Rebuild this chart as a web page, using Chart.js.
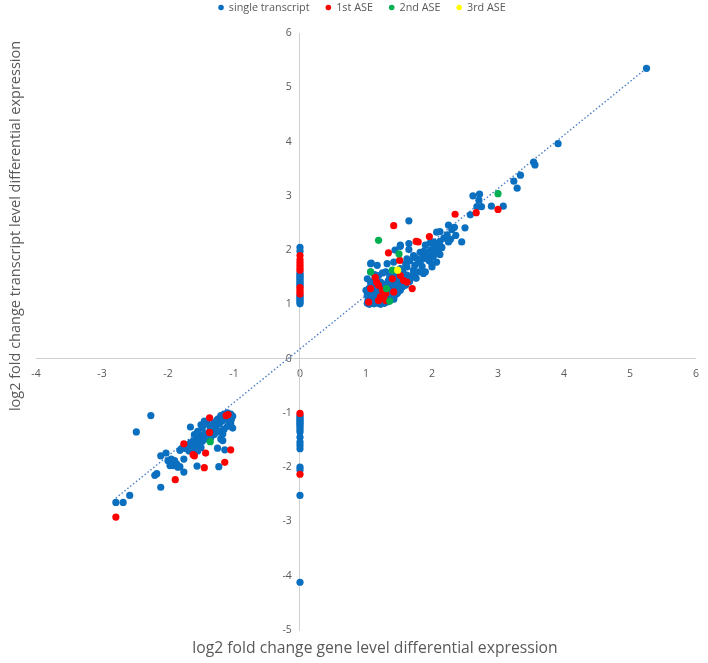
<!DOCTYPE html>
<html>
<head>
<meta charset="utf-8">
<script src="https://cdn.jsdelivr.net/npm/chart.js@4/dist/chart.umd.min.js"></script>
<style>
  html, body { margin: 0; padding: 0; background: #ffffff; }
  #wrap { position: relative; width: 708px; height: 663px; }
</style>
</head>
<body>
<div id="wrap"><canvas id="c" width="708" height="663"></canvas></div>
<script>
// ---- data ----
const seriesNames = ['single transcript', '1st ASE', '2nd ASE', '3rd ASE'];
const xTitle = 'log2 fold change gene level differential expression';
const yTitle = 'log2 fold change transcript level differential expression';
const xTicksRange = [-4, 6];
const yTicksRange = [-5, 6];

const singleTranscript = [
  // column at x = 0 (upper)
  [0,2.05],[0,1.98],[0,1.58],[0,1.55],[0,1.52],[0,1.49],[0,1.46],[0,1.43],[0,1.40],[0,1.37],[0,1.34],
  [0,1.16],[0,1.13],[0,1.10],[0,1.07],[0,1.04],[0,1.01],
  // column at x = 0 (lower)
  [0,-1.05],[0,-1.08],[0,-1.11],[0,-1.14],[0,-1.17],[0,-1.20],[0,-1.23],[0,-1.27],[0,-1.31],[0,-1.35],
  [0,-1.45],[0,-1.54],[0,-1.60],[0,-1.66],[0,-2.00],[0,-2.05],[0,-2.52],[0,-4.12],
  // upper cluster, dense base
  [1.02,1.02],[1.05,1.00],[1.08,1.03],[1.12,1.01],[1.15,1.05],[1.18,1.02],[1.22,1.00],[1.25,1.04],[1.28,1.02],
  [1.03,1.08],[1.07,1.12],[1.10,1.09],[1.14,1.12],[1.17,1.08],[1.20,1.11],[1.24,1.09],[1.27,1.13],[1.30,1.08],
  [1.33,1.05],[1.36,1.10],[1.02,1.17],[1.06,1.20],[1.10,1.18],[1.13,1.23],[1.17,1.17],[1.20,1.21],[1.24,1.18],
  [1.28,1.22],[1.32,1.17],[1.35,1.22],[1.39,1.15],[1.42,1.10],[1.45,1.18],[1.48,1.22],[1.00,1.26],[1.05,1.30],
  [1.10,1.33],[1.15,1.28],[1.19,1.30],[1.25,1.32],[1.30,1.29],[1.34,1.33],[1.38,1.28],[1.42,1.29],[1.46,1.30],
  [1.50,1.27],[1.52,1.26],[1.55,1.32],[1.27,1.04],[1.42,1.10],[1.47,1.20],
  // upper cluster, middle
  [1.02,1.47],[1.07,1.40],[1.12,1.44],[1.18,1.38],[1.22,1.41],[1.27,1.37],[1.34,1.44],[1.38,1.38],[1.44,1.36],
  [1.48,1.42],[1.52,1.41],[1.56,1.38],[1.60,1.35],[1.62,1.47],[1.66,1.42],[1.07,1.60],[1.13,1.55],[1.19,1.53],
  [1.25,1.58],[1.30,1.60],[1.36,1.52],[1.42,1.57],[1.46,1.50],[1.52,1.55],[1.56,1.60],[1.62,1.54],[1.68,1.50],
  [1.72,1.56],[1.76,1.48],[1.07,1.75],[1.17,1.72],[1.32,1.75],[1.42,1.78],[1.52,1.66],[1.62,1.69],[1.72,1.63],
  [1.80,1.60],[1.87,1.57],[1.90,1.60],[1.60,1.75],[1.66,1.80],[1.74,1.72],[1.80,1.78],[1.85,1.70],[2.00,1.69],
  [1.92,1.84],[1.62,1.84],[1.72,1.90],[1.82,1.96],[2.07,1.78],[1.76,1.85],[1.86,1.88],[1.96,1.80],[2.02,1.88],
  [1.95,1.95],[2.05,1.95],[2.12,1.92],[2.10,2.02],[1.93,1.92],[1.98,2.00],[2.03,2.05],[2.15,2.05],[2.18,2.22],
  [2.28,2.20],[1.88,1.98],[2.00,1.74],[1.84,1.82],[1.08,1.76],
  // upper cluster, upper part and tail
  [1.52,2.07],[1.44,2.00],[1.65,2.01],[1.52,2.09],[1.65,2.12],[1.90,2.09],[1.97,2.13],[2.02,2.15],[2.07,2.12],
  [2.25,2.15],[1.65,2.54],[1.99,2.14],[2.12,2.16],[2.45,2.15],[2.12,2.34],[2.07,2.33],[2.23,2.28],[2.36,2.27],
  [2.30,2.38],[2.25,2.46],[2.34,2.42],[2.50,2.41],[2.58,2.65],[2.62,3.00],[2.72,3.03],[2.71,2.92],[2.68,2.80],
  [2.75,2.80],[2.90,2.81],[3.08,2.81],[3.24,3.27],[3.29,3.14],[3.34,3.38],[3.54,3.62],[3.56,3.57],[3.91,3.96],
  [5.25,5.35],
  // lower cluster
  [-2.79,-2.65],[-2.68,-2.65],[-2.58,-2.52],[-2.26,-1.05],[-2.48,-1.35],[-2.11,-2.37],[-2.20,-2.15],[-2.17,-2.12],
  [-2.11,-1.79],[-2.03,-1.74],[-2.00,-1.88],[-1.95,-1.85],[-1.90,-1.88],[-1.87,-1.94],[-1.92,-1.97],[-1.97,-1.97],
  [-1.85,-2.00],[-1.82,-1.99],[-1.76,-1.85],[-1.76,-2.09],[-1.56,-1.98],[-1.23,-1.99],[-1.14,-1.68],[-1.25,-1.65],
  [-1.66,-1.26],[-1.50,-1.22],[-1.20,-1.48],[-1.17,-1.51],[-1.17,-1.39],[-1.82,-1.69],
  [-1.80,-1.66],[-1.76,-1.62],[-1.72,-1.66],[-1.70,-1.60],[-1.66,-1.55],[-1.62,-1.52],[-1.58,-1.50],[-1.55,-1.46],
  [-1.50,-1.44],[-1.46,-1.40],[-1.42,-1.38],[-1.65,-1.62],[-1.60,-1.58],[-1.56,-1.60],[-1.52,-1.55],[-1.48,-1.52],
  [-1.44,-1.48],[-1.40,-1.45],[-1.68,-1.70],[-1.63,-1.68],[-1.55,-1.70],[-1.50,-1.64],
  [-1.45,-1.15],[-1.40,-1.20],[-1.35,-1.25],[-1.30,-1.18],[-1.25,-1.12],[-1.20,-1.05],[-1.15,-1.02],[-1.10,-1.00],
  [-1.05,-1.02],[-1.02,-1.06],[-1.04,-1.12],[-1.08,-1.16],[-1.12,-1.10],[-1.18,-1.15],[-1.22,-1.20],[-1.28,-1.28],
  [-1.32,-1.32],[-1.36,-1.30],[-1.05,-1.20],[-1.02,-1.28],[-1.10,-1.25],[-1.15,-1.30],[-1.20,-1.33],[-1.25,-1.35],
  [-1.38,-1.22],[-1.48,-1.28],[-1.55,-1.34],[-1.60,-1.40],[-1.30,-1.40],[-1.35,-1.45]
];
const firstASE = [
  [0,1.90],[0,1.82],[0,1.77],[0,1.72],[0,1.67],[0,1.63],[0,1.31],[0,1.27],[0,1.23],[0,1.19],
  [0,-1.01],[0,-2.13],
  [1.42,2.45],[1.96,2.25],[1.76,2.16],[1.34,1.95],[1.51,1.81],[1.14,1.50],[1.16,1.41],[1.19,1.35],
  [1.25,1.26],[1.30,1.20],[1.22,1.14],[1.07,1.29],[1.04,1.04],[1.42,1.23],[1.57,1.44],[1.62,1.41],
  [1.70,1.29],[1.40,1.47],[1.52,1.53],[1.30,1.07],[2.35,2.66],[2.67,2.69],[3.00,2.75],[1.79,2.15],[1.19,1.07],
  [-2.79,-2.92],[-1.89,-2.23],[-1.45,-2.01],[-1.14,-1.91],[-1.76,-1.57],[-1.62,-1.77],[-1.60,-1.79],
  [-1.43,-1.74],[-1.05,-1.68],[-1.37,-1.36],[-1.37,-1.09],[-1.12,-1.05],[-1.09,-1.03]
];
const secondASE = [
  [1.19,2.18],[1.50,1.93],[1.40,1.63],[1.07,1.60],[1.31,1.29],[1.36,1.06],[3.00,3.04],[-1.36,-1.53]
];
const thirdASE = [
  [1.48,1.63]
];
// dotted linear trendline end points (as drawn in the reference)
const trendline = [[-2.79,-2.57],[5.25,5.35]];

const seriesColors = ['#0b6fc0', '#ff0000', '#00b050', '#ffff00'];
const trendColor = '#4a7fc4';

const toPts = arr => arr.map(p => ({x: p[0], y: p[1]}));
const seriesData = [singleTranscript, firstASE, secondASE, thirdASE];

const datasets = seriesData.map((d, i) => ({
  label: seriesNames[i],
  data: toPts(d),
  backgroundColor: seriesColors[i],
  borderColor: seriesColors[i],
  borderWidth: 0,
  pointRadius: 3.6,
  pointHoverRadius: 3.6,
  order: 4 - i
}));
datasets.push({
  label: 'trend',
  type: 'line',
  data: toPts(trendline),
  borderColor: trendColor,
  borderWidth: 1.4,
  borderDash: [1.5, 2.2],
  pointRadius: 0,
  fill: false,
  order: 10
});

const FONT = '"Open Sans", "Noto Sans", sans-serif';

const decorPlugin = {
  id: 'decor',
  afterDraw(chart) {
    const ctx = chart.ctx;
    ctx.save();
    // legend
    ctx.font = '10.8px ' + FONT;
    ctx.textBaseline = 'middle';
    ctx.textAlign = 'left';
    const r = 2.8, gapMT = 5, gapItems = 16;
    const items = chart.data.datasets.slice(0, seriesNames.length);
    const widths = items.map(ds => 2 * r + gapMT + ctx.measureText(ds.label).width);
    const total = widths.reduce((a, b) => a + b, 0) + gapItems * (items.length - 1);
    let x = 362 - total / 2;
    const ly = 7.5;
    items.forEach((ds, i) => {
      ctx.fillStyle = ds.backgroundColor;
      ctx.beginPath();
      ctx.arc(x + r, ly, r, 0, Math.PI * 2);
      ctx.fill();
      ctx.fillStyle = '#595959';
      ctx.fillText(ds.label, x + 2 * r + gapMT, ly + 0.5);
      x += widths[i] + gapItems;
    });
    // axis titles
    ctx.fillStyle = '#595959';
    ctx.textAlign = 'center';
    ctx.textBaseline = 'middle';
    ctx.font = '15.7px ' + FONT;
    ctx.fillText(xTitle, 375, 649);
    ctx.font = '14.5px ' + FONT;
    ctx.translate(16, 226);
    ctx.rotate(-Math.PI / 2);
    ctx.fillText(yTitle, 0, 0);
    ctx.restore();
  }
};

new Chart(document.getElementById('c'), {
  type: 'scatter',
  data: { datasets },
  options: {
    responsive: false,
    animation: false,
    events: [],
    layout: { padding: { top: 33, left: 36, right: 8, bottom: 33 } },
    plugins: { legend: { display: false }, tooltip: { enabled: false } },
    scales: {
      x: {
        type: 'linear',
        min: xTicksRange[0], max: xTicksRange[1],
        position: { y: 0 },
        grid: { display: false, drawTicks: false },
        border: { display: true, color: '#d0d0d0', width: 1 },
        ticks: { stepSize: 1, padding: 9, color: '#595959', font: { size: 10.5, family: FONT } }
      },
      y: {
        type: 'linear',
        min: yTicksRange[0], max: yTicksRange[1],
        position: { x: 0 },
        grid: { display: false, drawTicks: false },
        border: { display: true, color: '#d0d0d0', width: 1 },
        ticks: {
          stepSize: 1, padding: 9, color: '#595959', font: { size: 10.5, family: FONT },
          // labels sit to the left of the centred axis, with a small gap
          callback: v => v + '   '
        }
      }
    }
  },
  plugins: [decorPlugin]
});
</script>
</body>
</html>
